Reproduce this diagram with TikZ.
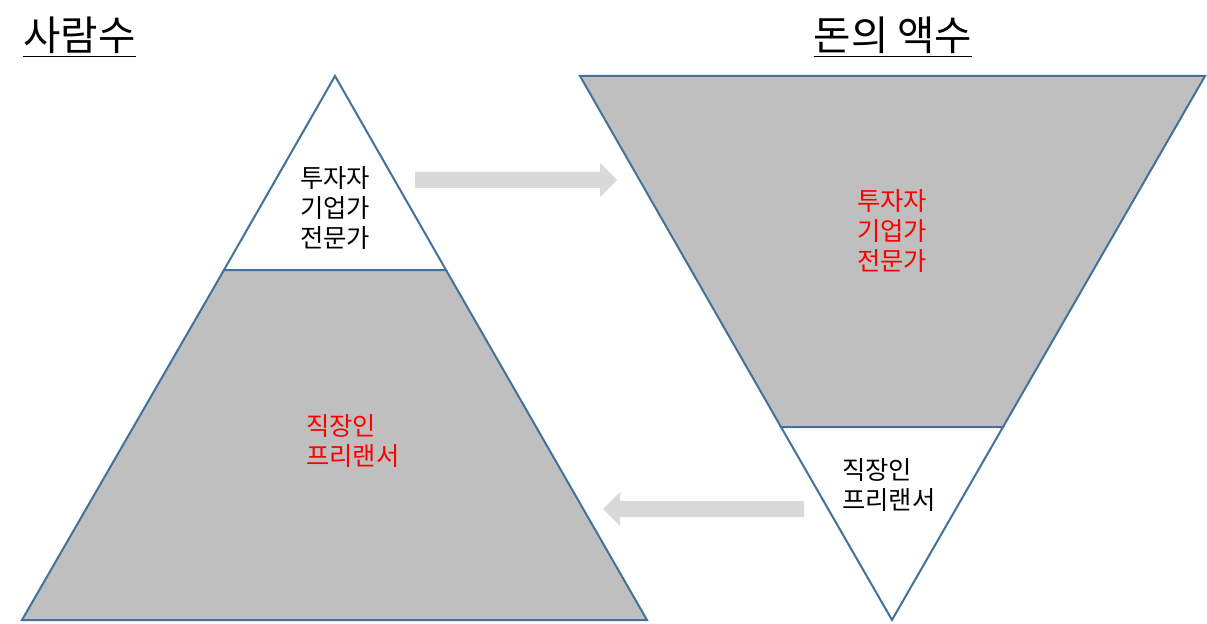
\documentclass[tikz,border=0pt]{standalone}
\usepackage{fontspec}
\setmainfont{Noto Sans CJK KR}
\usepackage{tikz}
\usetikzlibrary{positioning}
\definecolor{EdgeBlue}{HTML}{41719C}
\definecolor{FillGray}{HTML}{BFBFBF}
\definecolor{ArrowGray}{HTML}{D9D9D9}
\definecolor{LabelRed}{HTML}{FF0000}

\begin{document}
\begin{tikzpicture}[x=0.75pt, y=-0.75pt,
  part/.style={draw=EdgeBlue, line width=1.5pt, line join=miter},
  shaded/.style={part, fill=FillGray},
  plain/.style={part, fill=white},
  flow/.style={fill=ArrowGray, draw=none},
  label/.style={align=left, font=\fontsize{19}{22.5}\selectfont, inner sep=0pt},
  heading/.style={font=\fontsize{30.5}{34}\selectfont, inner sep=0pt}
]
\useasboundingbox (0,0) rectangle (1207,624);

% left pyramid
\coordinate (lapex) at (335,76);
\coordinate (lcutl) at (224,270);
\coordinate (lcutr) at (446,270);
\coordinate (lbasel) at (22,620);
\coordinate (lbaser) at (647,620);
\draw[plain] (lapex) -- (lcutr) -- (lcutl) -- cycle;
\draw[shaded] (lcutl) -- (lcutr) -- (lbaser) -- (lbasel) -- cycle;

% right pyramid
\coordinate (rtopl) at (580,76);
\coordinate (rtopr) at (1205,76);
\coordinate (rcutl) at (781,427);
\coordinate (rcutr) at (1003,427);
\coordinate (rapex) at (892,620);
\draw[shaded] (rtopl) -- (rtopr) -- (rcutr) -- (rcutl) -- cycle;
\draw[plain] (rcutl) -- (rcutr) -- (rapex) -- cycle;

% arrows
\fill[flow] (415,172) -- (600,172) -- (600,163) -- (617,180) -- (600,197)
  -- (600,188) -- (415,188) -- cycle;
\fill[flow] (804,501) -- (620,501) -- (620,492) -- (603,509) -- (620,526)
  -- (620,517) -- (804,517) -- cycle;

% titles
\node[heading, anchor=west] (people) at (23,37) {\underline{사람수}};
\node[heading] (money) at (893,37) {\underline{돈의 액수}};

% labels
\node[label, align=center] (ltop) at (335,208) {투자자\\기업가\\전문가};
\node[label, anchor=west, text=LabelRed] (lbottom) at (306,441) {직장인\\프리랜서};
\node[label, align=center, text=LabelRed] (rtop) at (892,231) {투자자\\기업가\\전문가};
\node[label, anchor=west] (rbottom) at (842,485) {직장인\\프리랜서};
\end{tikzpicture}
\end{document}
